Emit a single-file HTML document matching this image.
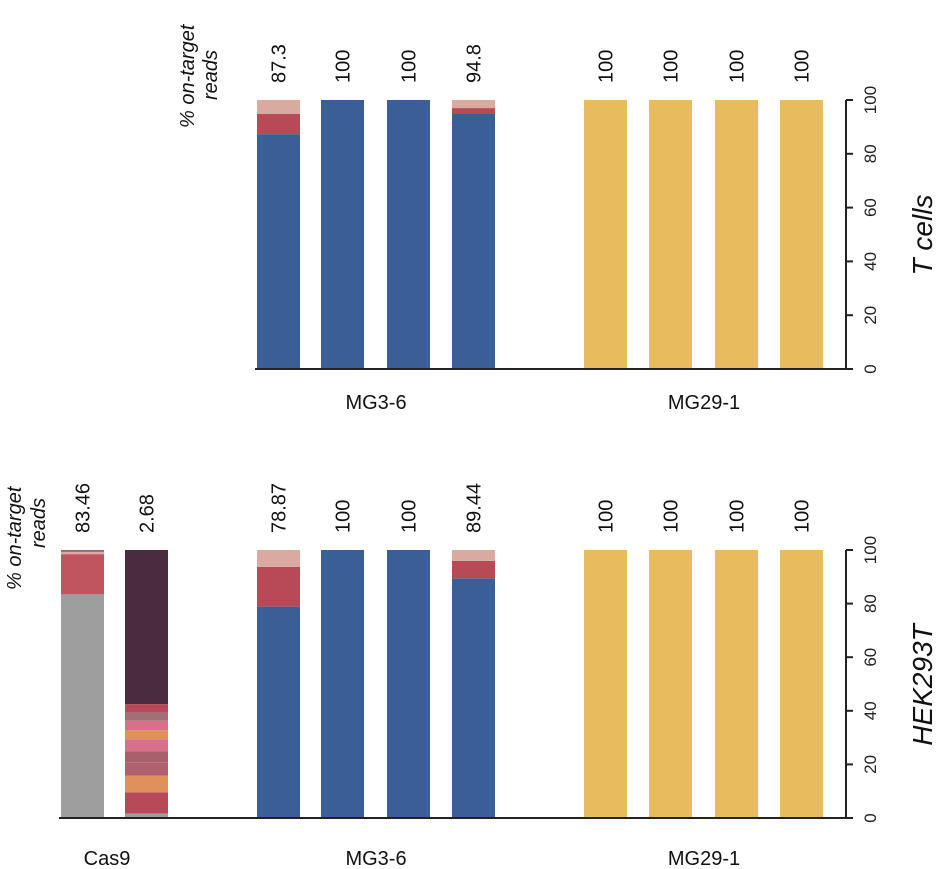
<!DOCTYPE html>
<html><head><meta charset="utf-8"><style>
body{margin:0;background:#fff}
svg{display:block;font-family:"Liberation Sans",sans-serif}
</style></head><body>
<svg id="chart" width="939" height="869" xmlns="http://www.w3.org/2000/svg"></svg>
<script>
// Data
const topBars = ["MG3-6 a","MG3-6 b","MG3-6 c","MG3-6 d","MG29-1 a","MG29-1 b","MG29-1 c","MG29-1 d"];
const topLabels = ["87.3","100","100","94.8","100","100","100","100"];
const topOnTarget = [87.3,100,100,94.8,100,100,100,100];
const topRed = [7.5,0,0,2.2,0,0,0,0];
const topPink = [5.2,0,0,3.0,0,0,0,0];
const botLabels = ["83.46","2.68","78.87","100","100","89.44","100","100","100","100"];
const botOnTarget = [83.46,1.7,78.87,100,100,89.44,100,100,100,100];
const botRed = [15.0,0,14.8,0,0,6.5,0,0,0,0];
const botPink = [1.54,0,6.33,0,0,4.06,0,0,0,0];
const cas9OffTargets = [7.9,6.2,5.0,4.0,4.3,3.7,3.5,3.1,3.1,57.5];
const cas9OffColors = ["#b84a58","#e0905a","#b0606e","#a8606c","#d8708c","#e0905a","#d8708c","#a07078","#b84a58","#4a2c40"];
const yTicks = [0,20,40,60,80,100];

const svg = document.getElementById('chart');
const NS = 'http://www.w3.org/2000/svg';
function mk(tag, attrs, parent){const e=document.createElementNS(NS,tag);for(const k in attrs)e.setAttribute(k,attrs[k]);(parent||svg).appendChild(e);return e;}

function panel(y0, y100, xs, onT, red, pink, labels, colors, labelY, cas9Index){
  const sy = v => y0 - v/100*(y0-y100);
  const w = 43;
  xs.forEach((x,i)=>{
    const g = mk('g',{});
    
    
    if(i===cas9Index){
      let acc=0;
      const base = onT[i];
      mk('rect',{x:x,y:sy(base),width:w,height:sy(0)-sy(base),fill:'#9e9e9e'},g);
      acc=base;
      cas9OffTargets.forEach((v,j)=>{
        const top=Math.min(100,acc+v);
        const r=mk('rect',{x:x,y:sy(top),width:w,height:sy(acc)-sy(top),fill:cas9OffColors[j]},g);
        
        
        acc=top;
      });
      return;
    }
    const c = colors[i];
    mk('rect',{x:x,y:sy(onT[i]),width:w,height:sy(0)-sy(onT[i]),fill:c},g);
    if(red[i]>0) mk('rect',{x:x,y:sy(onT[i]+red[i]),width:w,height:sy(onT[i])-sy(onT[i]+red[i]),fill:(i===0&&colors===botColors?'#c05560':'#b84a58')},g);
    if(pink[i]>0){const t=onT[i]+red[i];mk('rect',{x:x,y:sy(100),width:w,height:sy(t)-sy(100),fill:'#d9aaa0'},g);}
    if(i===0&&colors===botColors) mk('rect',{x:x,y:sy(100),width:w,height:sy(99.3)-sy(100),fill:'#a06080'},g);
  });
  xs.forEach((x,i)=>{
    const t = mk('text',{transform:`translate(${x+w/2+7},${labelY}) rotate(-90)`,'font-size':20,fill:'#111'});
    t.textContent = labels[i];
    
    
  });
  mk('line',{x1:xs[0]-2,x2:846,y1:y0,y2:y0,stroke:'#222','stroke-width':2});
  mk('line',{x1:846,x2:846,y1:y100,y2:y0,stroke:'#222','stroke-width':2});
  yTicks.forEach(v=>{
    mk('line',{x1:846,x2:853,y1:sy(v),y2:sy(v),stroke:'#222','stroke-width':2});
    const t=mk('text',{transform:`translate(876,${sy(v)}) rotate(-90)`,'font-size':17,'text-anchor':'middle',fill:'#222'});
    t.textContent=v;
    
    
  });
}
const blue='#3a5f96', yel='#e8bb5e';
const topXs=[257,321,387,452,584,649,715,780];
const topColors=[blue,blue,blue,blue,yel,yel,yel,yel];
const botXs=[61,125,257,321,387,452,584,649,715,780];
const botColors=['#9e9e9e','#4a2c40',blue,blue,blue,blue,yel,yel,yel,yel];
panel(369,100,topXs,topOnTarget,topRed,topPink,topLabels,topColors,83,-1);
panel(818,550,botXs,botOnTarget,botRed,botPink,botLabels,botColors,533,1);

function txt(s,attrs,name){const t=mk('text',attrs);t.textContent=s;return t;}
txt('% on-target',{transform:'translate(194,128) rotate(-90)','font-size':20,'font-style':'italic',fill:'#111'},'top-reads-title');
txt('reads',{transform:'translate(217,100) rotate(-90)','font-size':20,'font-style':'italic',fill:'#111'},'top-reads-title-2');
txt('% on-target',{transform:'translate(21,590) rotate(-90)','font-size':20,'font-style':'italic',fill:'#111'},'bottom-reads-title');
txt('reads',{transform:'translate(45,548) rotate(-90)','font-size':20,'font-style':'italic',fill:'#111'},'bottom-reads-title-2');
txt('T cells',{transform:'translate(932,235) rotate(-90)','font-size':28,'font-style':'italic','text-anchor':'middle',fill:'#111'},'top-panel-title');
txt('HEK293T',{transform:'translate(932,685) rotate(-90)','font-size':28,'font-style':'italic','text-anchor':'middle',fill:'#111'},'bottom-panel-title');
txt('MG3-6',{x:376,y:409,'font-size':20,'text-anchor':'middle',fill:'#111'},'top-group-mg3-6');
txt('MG29-1',{x:704,y:409,'font-size':20,'text-anchor':'middle',fill:'#111'},'top-group-mg29-1');
txt('Cas9',{x:107,y:865,'font-size':20,'text-anchor':'middle',fill:'#111'},'bottom-group-cas9');
txt('MG3-6',{x:376,y:865,'font-size':20,'text-anchor':'middle',fill:'#111'},'bottom-group-mg3-6');
txt('MG29-1',{x:704,y:865,'font-size':20,'text-anchor':'middle',fill:'#111'},'bottom-group-mg29-1');
</script>
</body></html>
